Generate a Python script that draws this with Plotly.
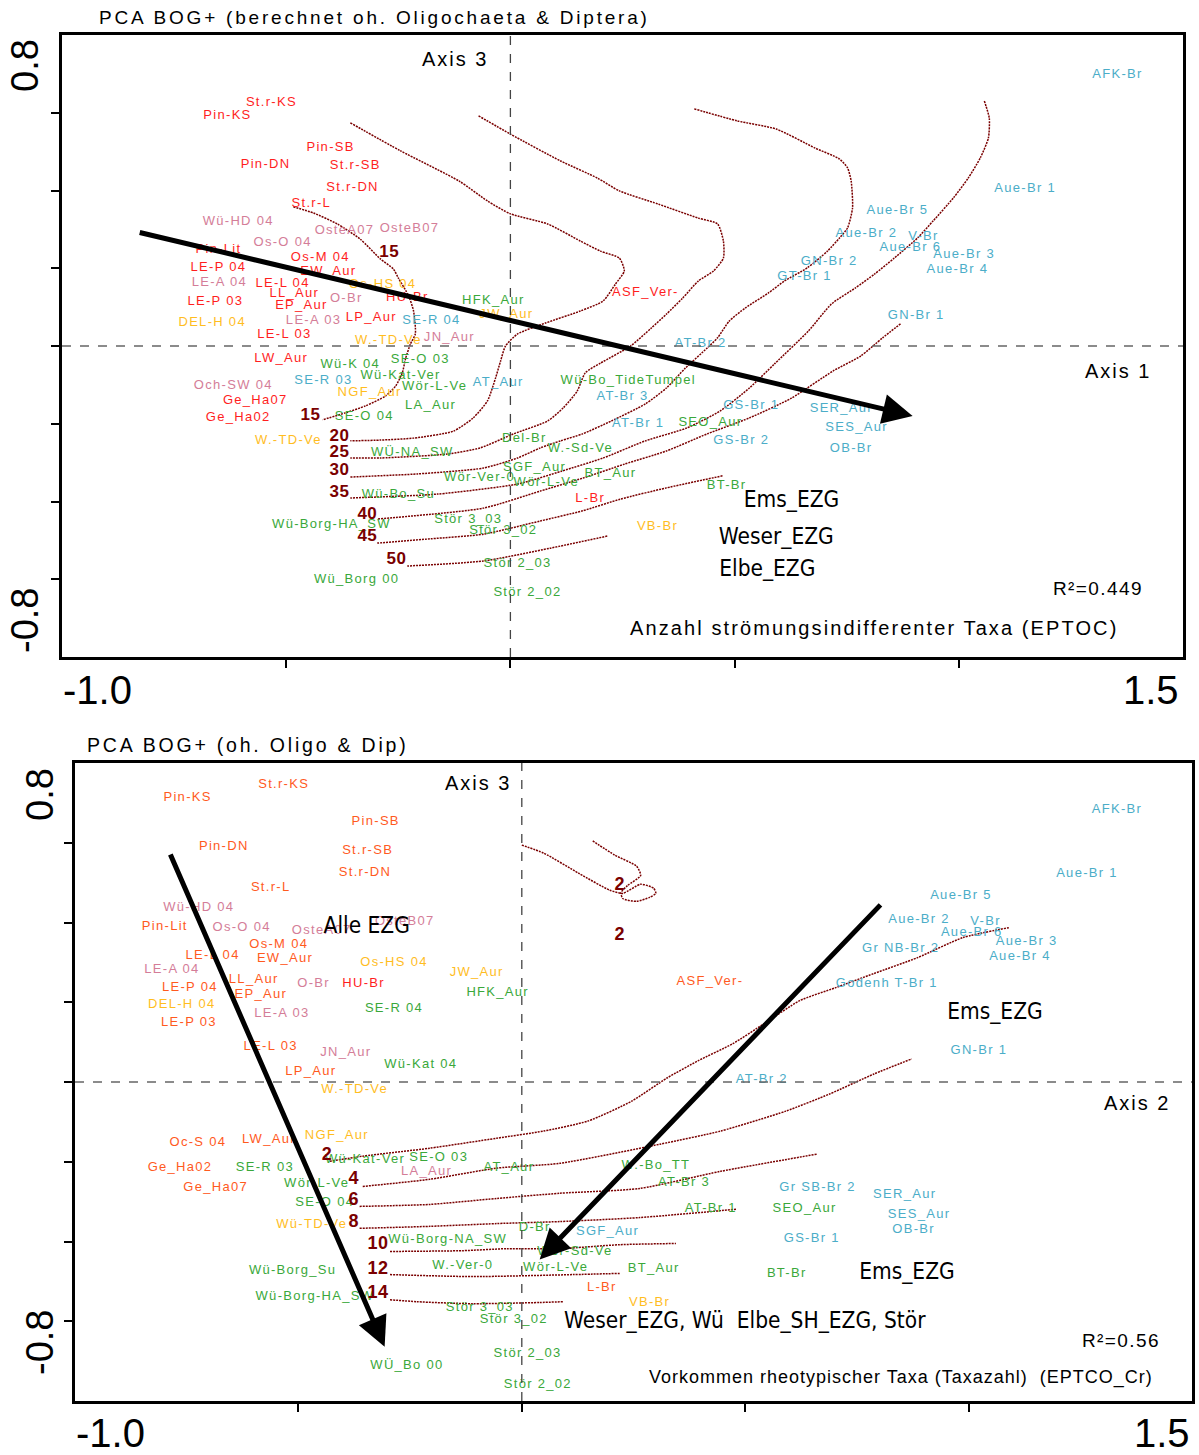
import plotly.graph_objects as go

# ---------------- TOP PANEL DATA (PCA scores, axis 1 vs axis 3) ----------------
TOP_RED = [("St.r-KS", -0.533, 0.625), ("Pin-KS", -0.631, 0.592), ("Pin-SB", -0.401, 0.509),
           ("Pin-DN", -0.546, 0.466), ("St.r-SB", -0.346, 0.463), ("St.r-DN", -0.352, 0.406),
           ("St.r-L", -0.444, 0.365), ("Pin-Lit", -0.651, 0.247), ("Os-M 04", -0.424, 0.226),
           ("EW_Aur", -0.406, 0.190), ("LE-P 04", -0.651, 0.201), ("LE-L 04", -0.508, 0.159),
           ("LL_Aur", -0.482, 0.134), ("LE-P 03", -0.658, 0.113), ("EP_Aur", -0.466, 0.103),
           ("HU-Br", -0.230, 0.123), ("LP_Aur", -0.310, 0.072), ("LE-L 03", -0.504, 0.028),
           ("LW_Aur", -0.511, -0.033), ("Ge_Ha07", -0.569, -0.141), ("Ge_Ha02", -0.607, -0.185),
           ("ASF_Ver-", 0.301, 0.136), ("L-Br", 0.178, -0.394)]
TOP_PINK = [("Wü-HD 04", -0.607, 0.319), ("OsteA07", -0.370, 0.296), ("OsteB07", -0.225, 0.301),
            ("Os-O 04", -0.508, 0.265), ("LE-A 04", -0.649, 0.162), ("O-Br", -0.366, 0.121),
            ("LE-A 03", -0.439, 0.064), ("JN_Aur", -0.136, 0.021), ("Och-SW 04", -0.618, -0.103)]
TOP_YELLOW = [("Os-HS 04", -0.285, 0.157), ("DEL-H 04", -0.665, 0.059), ("JW_Aur", -0.009, 0.080),
              ("W.-TD-Ve", -0.272, 0.013), ("NGF_Aur", -0.314, -0.121), ("W.-TD-Ve", -0.495, -0.244),
              ("VB-Br", 0.328, -0.466)]
TOP_GREEN = [("HFK_Aur", -0.038, 0.116), ("Wü-K 04", -0.357, -0.049), ("SE-O 03", -0.201, -0.036),
             ("Wü-Kat-Ver", -0.245, -0.077), ("Wör-L-Ve", -0.169, -0.105), ("LA_Aur", -0.178, -0.154),
             ("SE-O 04", -0.326, -0.183), ("Wü-Bo_TideTumpel", 0.263, -0.090), ("Del-Br", 0.031, -0.239),
             ("W.-Sd-Ve", 0.156, -0.265), ("WÜ-NA_SW", -0.219, -0.275), ("SGF_Aur", 0.054, -0.314),
             ("BT_Aur", 0.223, -0.329), ("Wör-Ver-0", -0.069, -0.340), ("Wör-L-Ve", 0.080, -0.352),
             ("Wü-Bo_Su", -0.250, -0.383), ("SEO_Aur", 0.446, -0.198), ("BT-Br", 0.482, -0.360),
             ("Stör 3_03", -0.094, -0.448), ("Wü-Borg-HA_SW", -0.399, -0.460), ("Stör 3_02", -0.016, -0.476),
             ("Stör 2_03", 0.016, -0.561), ("Wü_Borg 00", -0.343, -0.602), ("Stör 2_02", 0.038, -0.635)]
TOP_CYAN = [("AFK-Br", 1.354, 0.697), ("Aue-Br 1", 1.148, 0.404), ("Aue-Br 5", 0.863, 0.347),
            ("Aue-Br 2", 0.794, 0.288), ("V-Br", 0.921, 0.280), ("Aue-Br 6", 0.892, 0.252),
            ("Aue-Br 3", 1.012, 0.234), ("GN-Br 2", 0.711, 0.216), ("Aue-Br 4", 0.997, 0.195),
            ("GT-Br 1", 0.656, 0.177), ("GN-Br 1", 0.905, 0.077), ("SE-R 04", -0.176, 0.064),
            ("AT-Br 2", 0.424, 0.005), ("SE-R 03", -0.417, -0.090), ("AT_Aur", -0.027, -0.095),
            ("AT-Br 3", 0.250, -0.131), ("GS-Br 1", 0.537, -0.154), ("SER_Aur", 0.738, -0.162),
            ("AT-Br 1", 0.285, -0.201), ("SES_Aur", 0.772, -0.211), ("GS-Br 2", 0.515, -0.244),
            ("OB-Br", 0.760, -0.265)]
TOP_ISO_LABELS = [("15", -0.270, 0.239), ("15", -0.446, -0.180), ("20", -0.381, -0.234),
                  ("25", -0.381, -0.275), ("30", -0.381, -0.322), ("35", -0.381, -0.378),
                  ("40", -0.319, -0.435), ("45", -0.319, -0.491), ("50", -0.254, -0.550)]
TOP_GROUPS = [("Ems_EZG", 0.627, -0.399), ("Weser_EZG", 0.593, -0.494), ("Elbe_EZG", 0.573, -0.576)]

# isolines of the fitted variable (EPTOC), top panel
TOP_C15_X = [-0.484, -0.439, -0.386, -0.335, -0.290, -0.261, -0.250, -0.227, -0.216, -0.212, -0.223,
             -0.234, -0.241, -0.256, -0.279, -0.323, -0.368, -0.419]
TOP_C15_Y = [0.358, 0.342, 0.314, 0.275, 0.224, 0.198, 0.175, 0.129, 0.090, 0.031, 0.005,
             -0.033, -0.069, -0.103, -0.129, -0.154, -0.172, -0.190]
TOP_C20_X = [-0.357, -0.245, -0.114, -0.051, 0.000, 0.083, 0.156, 0.201, 0.243, 0.254, 0.234, 0.207,
             0.156, 0.078, 0.016, -0.011, -0.022, -0.033, -0.051, -0.083, -0.127, -0.216, -0.290, -0.357]
TOP_C20_Y = [0.574, 0.502, 0.424, 0.373, 0.340, 0.314, 0.270, 0.244, 0.226, 0.193, 0.159, 0.116,
             0.090, 0.059, 0.031, 0.000, -0.039, -0.082, -0.141, -0.185, -0.219, -0.237, -0.242, -0.244]
TOP_C25_X = [-0.071, 0.000, 0.112, 0.194, 0.243, 0.330, 0.419, 0.462, 0.475, 0.475, 0.453, 0.419, 0.384,
             0.348, 0.314, 0.268, 0.201, 0.167, 0.149, 0.118, 0.083, 0.007, -0.067, -0.141, -0.290, -0.357]
TOP_C25_Y = [0.592, 0.545, 0.476, 0.432, 0.399, 0.365, 0.329, 0.314, 0.270, 0.226, 0.193, 0.167, 0.123,
             0.082, 0.046, 0.000, -0.044, -0.069, -0.116, -0.159, -0.193, -0.226, -0.262, -0.278, -0.288, -0.288]
TOP_C30_X = [0.410, 0.506, 0.593, 0.680, 0.734, 0.752, 0.760, 0.763, 0.752, 0.734, 0.707, 0.662, 0.611,
             0.575, 0.524, 0.488, 0.462, 0.439, 0.390, 0.348, 0.301, 0.225, 0.161, 0.112, 0.067, 0.016,
             -0.060, -0.207, -0.357]
TOP_C30_Y = [0.610, 0.579, 0.558, 0.509, 0.481, 0.458, 0.424, 0.355, 0.304, 0.278, 0.244, 0.201, 0.167,
             0.136, 0.098, 0.064, 0.021, -0.005, -0.057, -0.108, -0.149, -0.193, -0.226, -0.244, -0.262,
             -0.288, -0.314, -0.329, -0.337]
TOP_C35_X = [1.057, 1.068, 1.066, 1.048, 1.021, 0.988, 0.943, 0.908, 0.856, 0.812, 0.769, 0.716, 0.665,
             0.589, 0.533, 0.468, 0.393, 0.301, 0.207, 0.114, 0.016, -0.163, -0.357]
TOP_C35_Y = [0.630, 0.586, 0.535, 0.484, 0.432, 0.381, 0.322, 0.278, 0.226, 0.185, 0.149, 0.108, 0.039,
             -0.046, -0.108, -0.167, -0.211, -0.244, -0.288, -0.322, -0.355, -0.381, -0.391]
TOP_C40_X = [0.870, 0.830, 0.781, 0.720, 0.627, 0.533, 0.439, 0.348, 0.254, 0.161, 0.067, -0.060, -0.297]
TOP_C40_Y = [0.057, 0.021, -0.026, -0.064, -0.134, -0.185, -0.226, -0.270, -0.304, -0.340, -0.373, -0.417, -0.445]
TOP_C45_X = [0.473, 0.348, 0.245, 0.161, 0.067, -0.060, -0.178, -0.297]
TOP_C45_Y = [-0.334, -0.365, -0.394, -0.424, -0.450, -0.484, -0.496, -0.507]
TOP_C50_X = [0.216, 0.089, -0.060, -0.230]
TOP_C50_Y = [-0.489, -0.520, -0.553, -0.566]
TOP_ARROW = (-0.830, 0.293, 0.897, -0.180)  # tail x, tail y, head x, head y

# ---------------- BOTTOM PANEL DATA (axis 2 vs axis 3) ----------------
BOT_ORANGE = [("Pin-KS", -0.748, 0.714), ("St.r-KS", -0.533, 0.745), ("Pin-SB", -0.327, 0.652),
              ("Pin-DN", -0.667, 0.589), ("St.r-SB", -0.345, 0.581), ("St.r-DN", -0.351, 0.526),
              ("St.r-L", -0.562, 0.486), ("Pin-Lit", -0.799, 0.390), ("Os-M 04", -0.544, 0.345),
              ("LE-L 04", -0.692, 0.317), ("EW_Aur", -0.530, 0.309), ("LL_Aur", -0.600, 0.257),
              ("LE-P 04", -0.743, 0.236), ("EP_Aur", -0.584, 0.219), ("LE-P 03", -0.745, 0.148),
              ("LE-L 03", -0.562, 0.088), ("LP_Aur", -0.472, 0.025), ("ASF_Ver-", 0.421, 0.252),
              ("Oc-S 04", -0.725, -0.153), ("LW_Aur", -0.566, -0.146), ("Ge_Ha02", -0.765, -0.216),
              ("Ge_Ha07", -0.685, -0.264), ("L-Br", 0.179, -0.516)]
BOT_RED = [("HU-Br", -0.354, 0.247)]
BOT_PINK = [("Wü-HD 04", -0.723, 0.438), ("Os-O 04", -0.627, 0.387), ("OsteA07", -0.448, 0.380),
            ("OsteB07", -0.262, 0.403), ("LE-A 04", -0.783, 0.282), ("O-Br", -0.466, 0.247),
            ("LE-A 03", -0.537, 0.171), ("JN_Aur", -0.394, 0.073), ("LA_Aur", -0.213, -0.224)]
BOT_YELLOW = [("Os-HS 04", -0.286, 0.299), ("JW_Aur", -0.101, 0.274), ("DEL-H 04", -0.761, 0.194),
              ("W.-TD-Ve", -0.374, -0.020), ("NGF_Aur", -0.414, -0.136), ("Wü-TD-Ve", -0.470, -0.357),
              ("VB-Br", 0.286, -0.553)]
BOT_GREEN = [("HFK_Aur", -0.054, 0.224), ("SE-R 04", -0.286, 0.184), ("Wü-Kat 04", -0.226, 0.043),
             ("Wü-Kat-Ver", -0.351, -0.196), ("SE-O 03", -0.186, -0.191), ("SE-R 03", -0.575, -0.216),
             ("AT_Aur", -0.029, -0.214), ("Wör-L-Ve", -0.459, -0.254), ("SE-O 04", -0.441, -0.302),
             ("Wü-Borg-NA_SW", -0.166, -0.395), ("D-Br", 0.029, -0.365), ("Wü-Borg_Su", -0.513, -0.473),
             ("W.-Ver-0", -0.132, -0.460), ("Wör-L-Ve", 0.076, -0.465), ("Wör-Sd-Ve", 0.119, -0.425),
             ("Wü-Borg-HA_SW", -0.463, -0.538), ("Stör 3_03", -0.094, -0.566), ("Stör 3_02", -0.018, -0.596),
             ("WÜ_Bo 00", -0.257, -0.712), ("Stör 2_03", 0.013, -0.682), ("Stör 2_02", 0.036, -0.760),
             ("W.-Bo_TT", 0.300, -0.211), ("AT-Br 3", 0.363, -0.252), ("AT-Br 1", 0.423, -0.319),
             ("SEO_Aur", 0.633, -0.319), ("BT_Aur", 0.295, -0.468), ("BT-Br", 0.593, -0.480)]
BOT_CYAN = [("AFK-Br", 1.332, 0.682), ("Aue-Br 1", 1.265, 0.523), ("Aue-Br 5", 0.983, 0.468),
            ("Aue-Br 2", 0.889, 0.408), ("V-Br", 1.038, 0.403), ("Aue-Br 6", 1.007, 0.375),
            ("Gr NB-Br 2", 0.848, 0.335), ("Aue-Br 3", 1.130, 0.352), ("Aue-Br 4", 1.115, 0.314),
            ("Godenh T-Br 1", 0.817, 0.247), ("GN-Br 1", 1.023, 0.078), ("AT-Br 2", 0.537, 0.005),
            ("SGF_Aur", 0.192, -0.375), ("Gr SB-Br 2", 0.662, -0.264), ("SER_Aur", 0.857, -0.282),
            ("SES_Aur", 0.889, -0.332), ("OB-Br", 0.877, -0.370), ("GS-Br 1", 0.649, -0.392)]
BOT_ISO_LABELS = [("2", -0.436, -0.184), ("4", -0.376, -0.244), ("6", -0.376, -0.297),
                  ("8", -0.376, -0.352), ("10", -0.322, -0.408), ("12", -0.322, -0.470),
                  ("14", -0.322, -0.531), ("2", 0.219, 0.493), ("2", 0.219, 0.367)]
BOT_GROUPS = [("Alle EZG", -0.347, 0.387), ("Ems_EZG", 1.059, 0.171), ("Ems_EZG", 0.862, -0.480),
              ("Weser_EZG, Wü\u00a0 Elbe_SH_EZG, Stör", 0.499, -0.604)]

BOT_CA_X = [0.000, 0.049, 0.128, 0.197, 0.226, 0.266, 0.295, 0.300, 0.286, 0.257, 0.226, 0.222, 0.237,
            0.266, 0.257, 0.208, 0.157]
BOT_CA_Y = [0.594, 0.574, 0.523, 0.481, 0.473, 0.496, 0.486, 0.473, 0.463, 0.453, 0.460, 0.475, 0.493,
            0.518, 0.541, 0.569, 0.606]
BOT_C2_X = [-0.430, -0.356, -0.206, -0.056, 0.049, 0.148, 0.246, 0.325, 0.394, 0.472, 0.542, 0.622,
            0.701, 0.788, 0.886, 0.987, 1.090]
BOT_C2_Y = [-0.199, -0.186, -0.166, -0.141, -0.123, -0.098, -0.048, 0.010, 0.053, 0.096, 0.146, 0.204,
            0.236, 0.272, 0.312, 0.362, 0.387]
BOT_C4_X = [-0.356, -0.206, -0.056, 0.085, 0.309, 0.445, 0.591, 0.689, 0.788, 0.873]
BOT_C4_Y = [-0.262, -0.244, -0.216, -0.204, -0.156, -0.123, -0.073, -0.030, 0.020, 0.058]
BOT_C6_X = [-0.363, -0.206, -0.056, 0.085, 0.264, 0.445, 0.660]
BOT_C6_Y = [-0.312, -0.307, -0.292, -0.279, -0.267, -0.224, -0.181]
BOT_C8_X = [-0.363, -0.206, -0.056, 0.085, 0.264, 0.481]
BOT_C8_Y = [-0.367, -0.362, -0.355, -0.350, -0.340, -0.319]
BOT_C10_X = [-0.295, -0.132, -0.034, 0.085, 0.219, 0.345]
BOT_C10_Y = [-0.425, -0.423, -0.418, -0.418, -0.408, -0.405]
BOT_C12_X = [-0.295, -0.110, 0.114, 0.219]
BOT_C12_Y = [-0.483, -0.488, -0.483, -0.480]
BOT_C14_X = [-0.295, -0.235, -0.110, 0.040, 0.092]
BOT_C14_Y = [-0.546, -0.551, -0.556, -0.553, -0.551]
BOT_ARROWS = [(-0.788, 0.574, -0.307, -0.664), (0.806, 0.448, 0.040, -0.445)]

# ---------------- styling ----------------
FONT = "Liberation Sans, Arial, sans-serif"
NARROW = "Liberation Sans Narrow, Arial Narrow, DejaVu Sans Condensed, sans-serif"
RED, PINK, YELLOW, GREEN, CYAN = "#FF1E1E", "#D47D98", "#FFBD1F", "#3AA83A", "#4BADC8"
ORANGE = "#FF5A1E"
ISO = "#7A0000"


def sp(t, ls):
    return f'<span style="letter-spacing:{ls}px">{t}</span>'


fig = go.Figure()


def add_labels(group, color, xa, ya, size=13, ls=1.3, family=FONT, bold=False):
    fig.add_trace(go.Scatter(
        x=[g[1] for g in group], y=[g[2] for g in group],
        text=[sp(g[0], ls) for g in group], mode="text", textposition="middle center",
        textfont=dict(family=family, size=size, color=color, weight="bold" if bold else "normal"),
        xaxis=xa, yaxis=ya, hoverinfo="skip", showlegend=False, cliponaxis=False))


def add_line(xs, ys, xa, ya):
    fig.add_trace(go.Scatter(x=xs, y=ys, mode="lines", line=dict(color=ISO, width=1.5, dash="2px,1px",
                                                                 shape="spline", smoothing=0.6),
                             xaxis=xa, yaxis=ya, hoverinfo="skip", showlegend=False))


for xs, ys in [(TOP_C15_X, TOP_C15_Y), (TOP_C20_X, TOP_C20_Y), (TOP_C25_X, TOP_C25_Y),
               (TOP_C30_X, TOP_C30_Y), (TOP_C35_X, TOP_C35_Y), (TOP_C40_X, TOP_C40_Y),
               (TOP_C45_X, TOP_C45_Y), (TOP_C50_X, TOP_C50_Y)]:
    add_line(xs, ys, "x", "y")
for xs, ys in [(BOT_CA_X, BOT_CA_Y), (BOT_C2_X, BOT_C2_Y), (BOT_C4_X, BOT_C4_Y), (BOT_C6_X, BOT_C6_Y),
               (BOT_C8_X, BOT_C8_Y), (BOT_C10_X, BOT_C10_Y), (BOT_C12_X, BOT_C12_Y), (BOT_C14_X, BOT_C14_Y)]:
    add_line(xs, ys, "x2", "y2")

add_labels(TOP_RED, RED, "x", "y")
add_labels(TOP_PINK, PINK, "x", "y")
add_labels(TOP_YELLOW, YELLOW, "x", "y")
add_labels(TOP_GREEN, GREEN, "x", "y")
add_labels(TOP_CYAN, CYAN, "x", "y")
add_labels(TOP_ISO_LABELS, ISO, "x", "y", size=17, ls=0.5, bold=True)
add_labels(TOP_GROUPS, "black", "x", "y", size=22.5, ls=0, family=NARROW)

add_labels(BOT_ORANGE, ORANGE, "x2", "y2")
add_labels(BOT_RED, RED, "x2", "y2")
add_labels(BOT_PINK, PINK, "x2", "y2")
add_labels(BOT_YELLOW, YELLOW, "x2", "y2")
add_labels(BOT_GREEN, GREEN, "x2", "y2")
add_labels(BOT_CYAN, CYAN, "x2", "y2")
add_labels(BOT_ISO_LABELS, ISO, "x2", "y2", size=18, ls=0.5, bold=True)
add_labels(BOT_GROUPS, "black", "x2", "y2", size=22.5, ls=0, family=NARROW)

W, H = 1199, 1455
axis_common = dict(showline=True, mirror=True, linewidth=3, linecolor="black", ticks="outside",
                   ticklen=8, tickwidth=2, tickcolor="black", showticklabels=False, showgrid=False,
                   zeroline=False)
fig.update_layout(
    width=W, height=H, margin=dict(l=0, r=0, t=0, b=0), paper_bgcolor="white", plot_bgcolor="white",
    showlegend=False,
    xaxis=dict(domain=[62 / W, 1183 / W], range=[-1.0, 1.5], tickvals=[-0.5, 0, 0.5, 1.0], anchor="y",
               **axis_common),
    yaxis=dict(domain=[1 - 657 / H, 1 - 35 / H], range=[-0.8, 0.8],
               tickvals=[-0.6, -0.4, -0.2, 0, 0.2, 0.4, 0.6], anchor="x", **axis_common),
    xaxis2=dict(domain=[75 / W, 1192 / W], range=[-1.0, 1.5], tickvals=[-0.5, 0, 0.5, 1.0], anchor="y2",
                **axis_common),
    yaxis2=dict(domain=[1 - 1401 / H, 1 - 763 / H], range=[-0.8, 0.8],
                tickvals=[-0.6, -0.4, -0.2, 0, 0.2, 0.4, 0.6], anchor="x2", **axis_common),
)

shapes = []
for xr, yr in [("x", "y"), ("x2", "y2")]:
    shapes.append(dict(type="line", xref=xr, yref=yr, x0=0, x1=0, y0=-0.8, y1=0.8,
                       line=dict(color="#444444", width=1.3, dash="dash")))
    shapes.append(dict(type="line", xref=xr, yref=yr, x0=-1.0, x1=1.5, y0=0, y1=0,
                       line=dict(color="#666666", width=1.3, dash="dash")))
fig.update_layout(shapes=shapes)

ann = []


def txt(text, x, y, xref, yref, size, ls, xanchor="center", angle=0, family=FONT):
    ann.append(dict(text=sp(text, ls) if ls else text, x=x, y=y, xref=xref, yref=yref, showarrow=False,
                    xanchor=xanchor, yanchor="middle", textangle=angle,
                    font=dict(family=family, size=size, color="black")))


# titles
txt("PCA BOG+ (berechnet oh. Oligochaeta & Diptera)", 97 / W, 1 - 18 / H, "paper", "paper", 19, 2.8,
    xanchor="left")
txt("PCA BOG+ (oh. Oligo & Dip)", 85 / W, 1 - 745 / H, "paper", "paper", 19.5, 2.8, xanchor="left")
# axis end labels
txt("0.8", 25 / W, 1 - 65 / H, "paper", "paper", 38, 0, angle=-90)
txt("-0.8", 25 / W, 1 - 620 / H, "paper", "paper", 38, 0, angle=-90)
txt("-1.0", 97 / W, 1 - 690 / H, "paper", "paper", 40, 0)
txt("1.5", 1151 / W, 1 - 690 / H, "paper", "paper", 40, 0)
txt("0.8", 40 / W, 1 - 795 / H, "paper", "paper", 38, 0, angle=-90)
txt("-0.8", 40 / W, 1 - 1343 / H, "paper", "paper", 38, 0, angle=-90)
txt("-1.0", 111 / W, 1 - 1433 / H, "paper", "paper", 40, 0)
txt("1.5", 1162 / W, 1 - 1433 / H, "paper", "paper", 40, 0)
# axis names and fit info
txt("Axis 3", -0.123, 0.738, "x", "y", 20, 2)
txt("Axis 1", 1.356, -0.064, "x", "y", 20, 2)
txt("R²=0.449", 1.311, -0.625, "x", "y", 19, 1.4)
txt("Anzahl strömungsindifferenter Taxa (EPTOC)", 0.810, -0.725, "x", "y", 20, 2.1)
txt("Axis 3", -0.098, 0.750, "x2", "y2", 20, 2)
txt("Axis 2", 1.376, -0.053, "x2", "y2", 20, 2)
txt("R²=0.56", 1.341, -0.649, "x2", "y2", 19, 1.4)
txt("Vorkommen rheotypischer Taxa (Taxazahl)\u00a0 (EPTCO_Cr)", 0.848, -0.742, "x2", "y2", 18, 1.0)

# arrows (fitted gradient directions)
for (x0, y0, x1, y1), xr, yr in [(TOP_ARROW, "x", "y"), (BOT_ARROWS[0], "x2", "y2"),
                                 (BOT_ARROWS[1], "x2", "y2")]:
    ann.append(dict(x=x1, y=y1, ax=x0, ay=y0, xref=xr, yref=yr, axref=xr, ayref=yr, text="",
                    showarrow=True, arrowhead=2, arrowsize=1.2, arrowwidth=5, arrowcolor="black"))

fig.update_layout(annotations=ann)
fig.write_html("out.html")
